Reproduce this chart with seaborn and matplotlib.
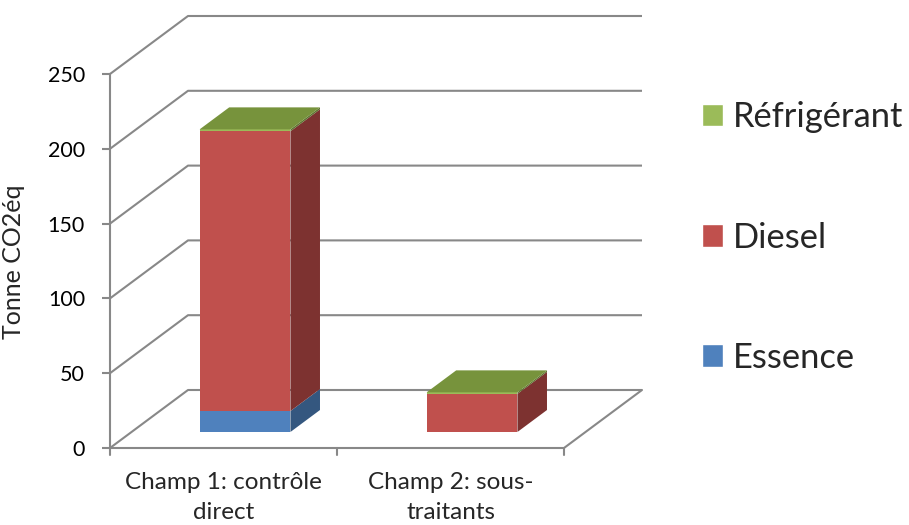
import matplotlib
matplotlib.use("Agg")
import matplotlib.pyplot as plt
from matplotlib.patches import Patch, Polygon
from matplotlib.transforms import Affine2D
import pandas as pd
import seaborn as sns

# data
categories = ["Champ 1: contrôle\ndirect", "Champ 2: sous-\ntraitants"]
essence = [14, 0]
diesel = [187, 25.5]
refrigerant = [1.3, 1.0]
y_ticks = [0, 50, 100, 150, 200, 250]

front_colors = {"Essence": "#4F81BD", "Diesel": "#C0504D", "Réfrigérant": "#9BBB59"}
side_colors = {"Essence": "#34577F", "Diesel": "#7D3230", "Réfrigérant": "#5E7530"}
top_color = "#77933C"
grid_color = "#888888"

# fake 3d: depth shift of the back wall, in data units
DX = 78 / 227
DY = 58 / 1.496
F0, F1 = 0.276, 0.655   # bar depth, as fraction of the floor depth
BAR_W = 0.4

sns.set_style("white")
plt.rcParams['font.family'] = ['Lato', 'DejaVu Sans']

fig = plt.figure(figsize=(9.09, 5.25), dpi=100)
ax = fig.add_axes([110 / 909, 77 / 525, 532 / 909, 432 / 525])

df = pd.DataFrame({"cat": categories, "Essence": essence,
                   "Diesel": diesel, "Réfrigérant": refrigerant})
df["cum_diesel"] = df["Essence"] + df["Diesel"]
df["cum_total"] = df["cum_diesel"] + df["Réfrigérant"]

# front faces, pushed back to the bar depth
shift = Affine2D().translate(F0 * DX, F0 * DY) + ax.transData
for col, name in [("cum_total", "Réfrigérant"), ("cum_diesel", "Diesel"), ("Essence", "Essence")]:
    sns.barplot(data=df, x="cat", y=col, color=front_colors[name], saturation=1,
                width=BAR_W, errorbar=None, transform=shift, zorder=3, linewidth=0, ax=ax)

# side and top faces
ddx, ddy = (F1 - F0) * DX, (F1 - F0) * DY
for i in range(len(categories)):
    xl = i - BAR_W / 2 + F0 * DX
    xr = i + BAR_W / 2 + F0 * DX
    oy = F0 * DY
    segs = [("Essence", 0, essence[i]),
            ("Diesel", essence[i], essence[i] + diesel[i]),
            ("Réfrigérant", essence[i] + diesel[i], essence[i] + diesel[i] + refrigerant[i])]
    for name, b, t in segs:
        if t - b <= 0:
            continue
        ax.add_patch(Polygon([(xr, b + oy), (xr + ddx, b + oy + ddy),
                              (xr + ddx, t + oy + ddy), (xr, t + oy)],
                             closed=True, facecolor=side_colors[name], lw=0, zorder=3))
    top = segs[-1][2] + oy
    ax.add_patch(Polygon([(xl, top), (xr, top), (xr + ddx, top + ddy), (xl + ddx, top + ddy)],
                         closed=True, facecolor=top_color, lw=0, zorder=3))

# walls and floor
x0, x1 = -0.5, len(categories) - 0.5
for v in y_ticks:
    ax.plot([x0, x0 + DX, x1 + DX], [v, v + DY, v + DY], color=grid_color, lw=1.5,
            zorder=1, clip_on=False, solid_capstyle="butt")
ax.plot([x0, x1, x1 + DX], [0, 0, DY], color=grid_color, lw=1.5, zorder=1, clip_on=False)
for xt in [x0, 0.5, x1]:
    ax.plot([xt, xt], [0, -5], color=grid_color, lw=1.5, zorder=1, clip_on=False)

ax.set_xlim(x0, x1 + DX)
ax.set_ylim(0, 250 + DY)
for s in ["top", "right", "bottom"]:
    ax.spines[s].set_visible(False)
ax.spines["left"].set_bounds(0, 250)
ax.spines["left"].set_color(grid_color)
ax.spines["left"].set_linewidth(1.5)
ax.spines["left"].set_zorder(1)

ax.set_yticks(y_ticks)
ax.set_yticklabels([str(v) for v in y_ticks])
ax.tick_params(axis="y", length=6, width=1.5, color=grid_color, pad=12,
               labelsize=15.5, labelcolor="black", left=True)
ax.set_xticks(range(len(categories)))
ax.set_xticklabels(categories, fontsize=17.5, linespacing=1.55)
ax.tick_params(axis="x", length=0, pad=17)
ax.set_xlabel("")
ax.set_ylabel("Tonne CO2éq", fontsize=18)
ax.yaxis.set_label_coords(-0.16, 0.43)

handles = [Patch(facecolor=front_colors[n], label=n) for n in ["Réfrigérant", "Diesel", "Essence"]]
fig.legend(handles=handles, loc="center left", bbox_to_anchor=(702 / 909, (525 - 237.5) / 525),
           frameon=False, fontsize=24.8, handlelength=0.62, handleheight=0.62,
           handletextpad=0.28, labelspacing=2.56, borderpad=0, borderaxespad=0)

fig.savefig("out.png", dpi=100)
